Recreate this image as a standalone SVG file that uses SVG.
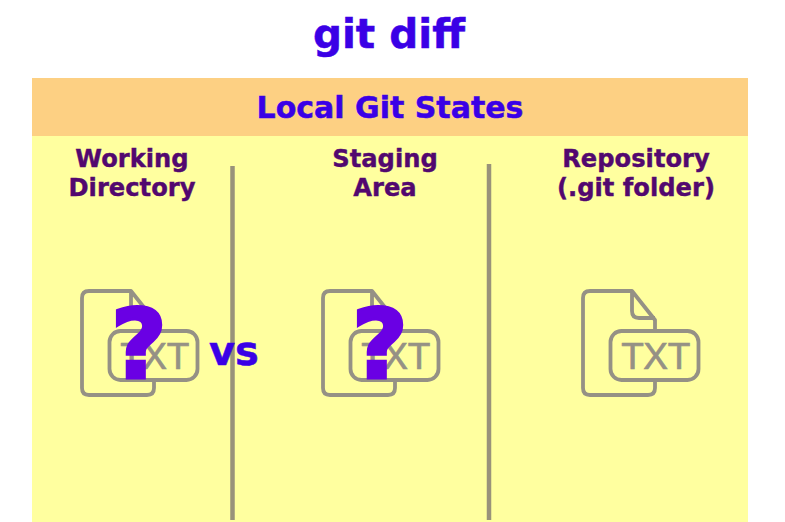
<svg xmlns="http://www.w3.org/2000/svg" width="785" height="522" viewBox="0 0 785 522">
<style>
text{font-family:"DejaVu Sans",Verdana,sans-serif;font-weight:bold;text-anchor:middle}
.blue{fill:#3a00e6;stroke:#3a00e6;stroke-width:.5}
.col{fill:#52086f;stroke:#52086f;stroke-width:.4;font-size:24.2px}
.ic{fill:none;stroke:#959185;stroke-width:3.8;stroke-linejoin:round}
.lab{fill:#ffff9f}
.txt{fill:#959185;stroke:#959185;stroke-width:.7;font-family:"Liberation Sans",Arial,sans-serif;font-weight:normal;font-size:37px;letter-spacing:-.4px}
.q{fill:#6a00e4;stroke:#6a00e4;stroke-width:3;font-size:97px}
.div{stroke:#99927a;stroke-width:4.5}
</style>
<rect width="785" height="522" fill="#fff"/>
<rect x="32" y="135" width="716" height="387" fill="#ffff9f"/>
<rect x="32" y="78" width="716" height="58" fill="#fdd083"/>
<text class="blue" x="389" y="48" font-size="40.500">git diff</text>
<text class="blue" x="390" y="118" font-size="30">Local Git States</text>
<g id="dividers"><line class="div" x1="232.500" y1="166" x2="232.500" y2="520"/><line class="div" x1="489" y1="164" x2="489" y2="520"/></g>
<g id="working">
<text class="col" x="132" y="167">Working</text><text class="col" x="132" y="196">Directory</text>
<g transform="translate(-501 0)"><path class="ic" d="M632 291H590Q583 291 583 298V388Q583 395 590 395H648Q655 395 655 388V320L632 291V311Q632 318 639 318H655"/><rect class="ic lab" x="610.500" y="331" width="88" height="49" rx="11"/><text class="txt" x="655.500" y="369">TXT</text></g>
<text class="q" x="139" y="378">?</text>
<text class="blue" x="234" y="365" font-size="40">vs</text>
</g>
<g id="staging">
<text class="col" x="385" y="167">Staging</text><text class="col" x="385" y="196">Area</text>
<g transform="translate(-260 0)"><path class="ic" d="M632 291H590Q583 291 583 298V388Q583 395 590 395H648Q655 395 655 388V320L632 291V311Q632 318 639 318H655"/><rect class="ic lab" x="610.500" y="331" width="88" height="49" rx="11"/><text class="txt" x="655.500" y="369">TXT</text></g>
<text class="q" x="380" y="378">?</text>
</g>
<g id="repository">
<text class="col" x="636" y="167">Repository</text><text class="col" x="636" y="196">(.git folder)</text>
<g><path class="ic" d="M632 291H590Q583 291 583 298V388Q583 395 590 395H648Q655 395 655 388V320L632 291V311Q632 318 639 318H655"/><rect class="ic lab" x="610.500" y="331" width="88" height="49" rx="11"/><text class="txt" x="655.500" y="369">TXT</text></g>
</g>
</svg>
